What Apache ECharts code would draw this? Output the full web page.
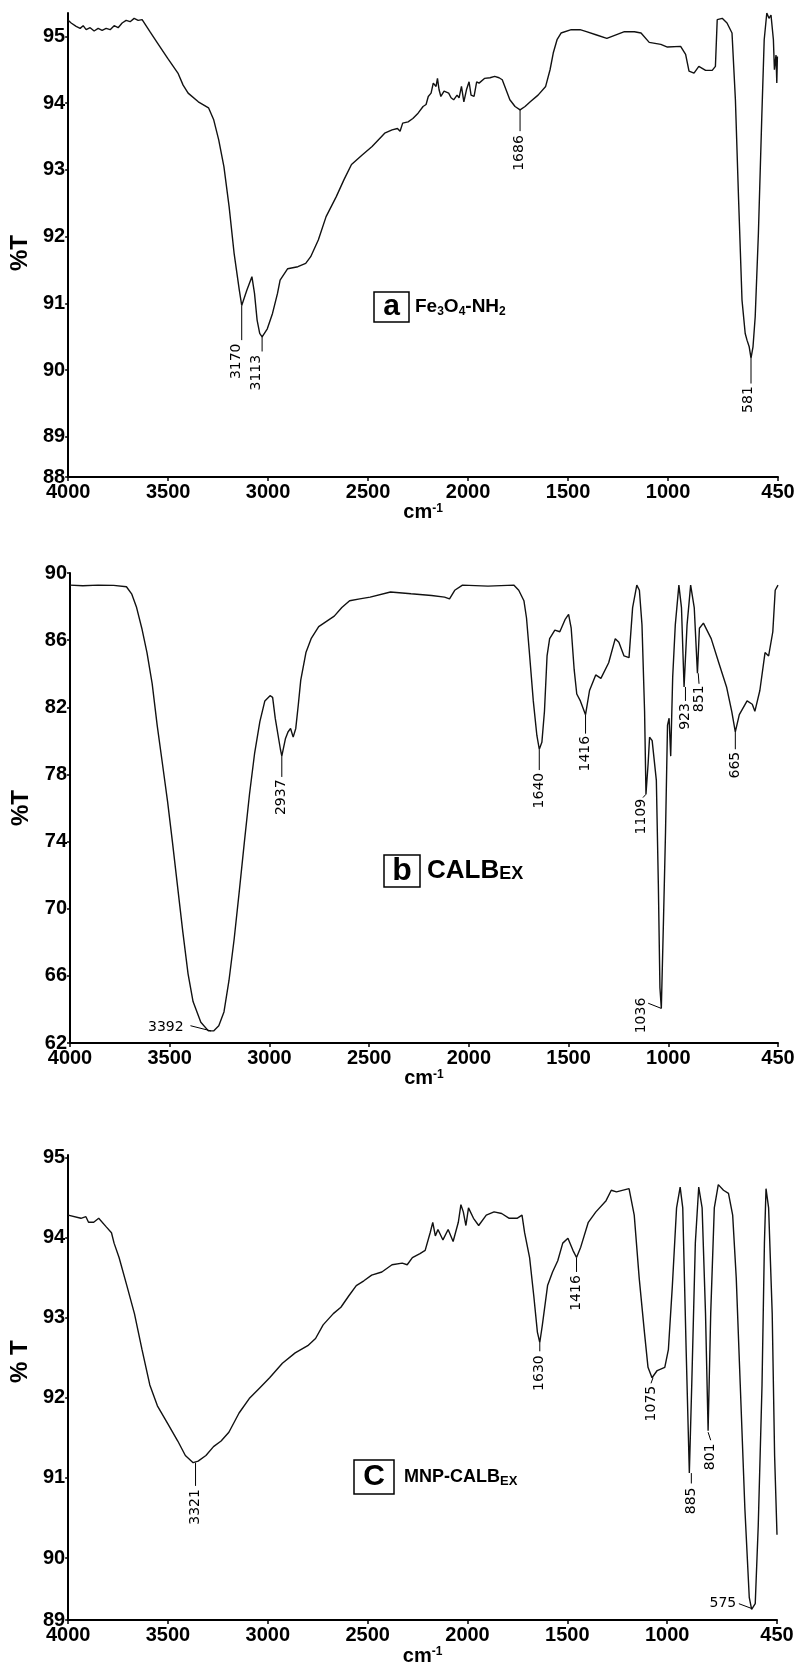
<!DOCTYPE html>
<html>
<head>
<meta charset="utf-8">
<script src="https://cdn.jsdelivr.net/npm/echarts@6/dist/echarts.min.js"></script>
<style>
  html, body { margin: 0; padding: 0; background: #fff; }
  #chart { width: 805px; height: 1667px; }
</style>
</head>
<body>
<div id="chart"></div>
<script>
// x axis ticks (wavenumber, cm-1) shared by the three spectra
const xTicks = [4000, 3500, 3000, 2500, 2000, 1500, 1000, 450]

// panel a : Fe3O4-NH2
const yTicksA = [88.4, 89, 90, 91, 92, 93, 94, 95]
const yLabelsA = ['88', '89', '90', '91', '92', '93', '94', '95']
const specA = [
  [4000, 95.24], [3985, 95.2], [3960, 95.15], [3940, 95.12], [3925, 95.16], [3910, 95.1],
  [3890, 95.13], [3870, 95.08], [3850, 95.12], [3830, 95.09], [3810, 95.12], [3790, 95.1],
  [3770, 95.16], [3750, 95.13], [3730, 95.2], [3710, 95.24], [3690, 95.22], [3670, 95.27],
  [3650, 95.24], [3630, 95.25], [3591, 95.07], [3553, 94.9], [3502, 94.67], [3451, 94.45],
  [3425, 94.27], [3400, 94.15], [3349, 94.02], [3298, 93.93], [3272, 93.75], [3247, 93.45],
  [3221, 93.05], [3195, 92.45], [3170, 91.75], [3144, 91.2], [3132, 90.97], [3106, 91.2],
  [3081, 91.4], [3068, 91.15], [3055, 90.75], [3042, 90.55], [3030, 90.5], [3004, 90.62],
  [2978, 90.85], [2953, 91.15], [2940, 91.35], [2902, 91.52], [2851, 91.55], [2812, 91.6],
  [2787, 91.7], [2749, 91.95], [2710, 92.3], [2659, 92.6], [2621, 92.85], [2583, 93.08],
  [2531, 93.22], [2480, 93.35], [2417, 93.55], [2380, 93.6], [2353, 93.62], [2340, 93.58],
  [2327, 93.7], [2300, 93.72], [2276, 93.77], [2250, 93.85], [2225, 93.95], [2210, 93.98],
  [2199, 94.1], [2185, 94.15], [2174, 94.3], [2160, 94.25], [2153, 94.37], [2145, 94.2],
  [2136, 94.1], [2120, 94.18], [2097, 94.15], [2085, 94.08], [2072, 94.05], [2055, 94.12],
  [2045, 94.08], [2033, 94.25], [2021, 94.02], [2008, 94.2], [1995, 94.32], [1985, 94.12],
  [1970, 94.1], [1957, 94.32], [1945, 94.3], [1918, 94.37], [1890, 94.38], [1867, 94.4],
  [1845, 94.38], [1829, 94.35], [1810, 94.2], [1791, 94.05], [1765, 93.95], [1740, 93.9],
  [1715, 93.95], [1689, 94.02], [1650, 94.12], [1612, 94.25], [1590, 94.5], [1574, 94.75],
  [1555, 94.95], [1535, 95.05], [1484, 95.1], [1440, 95.1], [1408, 95.07], [1357, 95.02],
  [1306, 94.97], [1300, 94.95], [1218, 95.07], [1168, 95.07], [1135, 95.05], [1094, 94.91],
  [1036, 94.88], [1003, 94.84], [937, 94.85], [912, 94.73], [895, 94.48], [870, 94.45],
  [846, 94.55], [812, 94.49], [779, 94.49], [763, 94.55], [754, 95.25], [729, 95.27],
  [705, 95.2], [680, 95.05], [663, 94.05], [647, 92.55], [630, 91.05], [614, 90.55],
  [605, 90.45], [594, 90.35], [585, 90.18], [575, 90.35], [564, 90.8], [548, 92.05],
  [531, 93.8], [519, 94.95], [506, 95.35], [495, 95.27], [485, 95.32], [473, 94.95],
  [468, 94.5], [460, 94.72], [456, 94.3], [453, 94.7]
]
// peak notes: text, orientation, curve x/y, leader end x/y, text anchor x/y
const peaksA = [
  ['3170', 'v', 3132, 90.97, 3132, 90.45, 3160, 90.4],
  ['3113', 'v', 3030, 90.5, 3030, 90.28, 3058, 90.23],
  ['1686', 'v', 1740, 93.9, 1740, 93.58, 1745, 93.52],
  ['581', 'v', 585, 90.18, 585, 89.8, 597, 89.76]
]

// panel b : CALBEX
const yTicksB = [62, 66, 70, 74, 78, 82, 86, 90]
const yLabelsB = ['62', '66', '70', '74', '78', '82', '86', '90']
const specB = [
  [4000, 89.28], [3936, 89.24], [3859, 89.28], [3781, 89.26], [3717, 89.18], [3691, 88.76],
  [3666, 87.94], [3640, 86.71], [3614, 85.26], [3588, 83.41], [3563, 80.94], [3537, 78.68],
  [3511, 76.41], [3486, 73.94], [3460, 71.26], [3434, 68.59], [3408, 66.12], [3383, 64.47],
  [3344, 63.24], [3306, 62.72], [3280, 62.72], [3254, 63.03], [3228, 63.85], [3203, 65.71],
  [3177, 68.18], [3151, 71.06], [3126, 73.94], [3100, 76.82], [3074, 79.29], [3048, 81.15],
  [3023, 82.38], [2997, 82.69], [2984, 82.59], [2971, 81.35], [2945, 79.5], [2938, 79.09],
  [2920, 80.12], [2907, 80.53], [2894, 80.74], [2881, 80.22], [2868, 80.74], [2855, 82.18],
  [2843, 83.62], [2817, 85.26], [2791, 86.09], [2753, 86.81], [2714, 87.12], [2675, 87.43],
  [2637, 87.94], [2598, 88.35], [2547, 88.46], [2495, 88.56], [2393, 88.87], [2290, 88.76],
  [2187, 88.66], [2122, 88.56], [2097, 88.46], [2071, 88.97], [2032, 89.28], [1904, 89.22],
  [1775, 89.28], [1750, 88.97], [1724, 88.35], [1711, 87.32], [1698, 85.47], [1677, 82.38],
  [1659, 80.32], [1647, 79.5], [1634, 79.91], [1621, 81.76], [1608, 85.06], [1595, 86.09],
  [1569, 86.6], [1544, 86.5], [1518, 87.22], [1500, 87.53], [1487, 86.71], [1472, 84.24],
  [1459, 82.79], [1441, 82.38], [1415, 81.56], [1395, 83.0], [1364, 83.93], [1338, 83.72],
  [1299, 84.65], [1266, 86.09], [1248, 85.88], [1222, 85.06], [1197, 84.96], [1179, 87.94],
  [1158, 89.28], [1145, 88.97], [1132, 86.91], [1119, 81.76], [1112, 76.82], [1101, 78.68],
  [1094, 80.22], [1081, 80.01], [1060, 77.65], [1050, 71.47], [1042, 65.29], [1035, 64.06],
  [1024, 69.41], [1014, 74.56], [1004, 80.94], [996, 81.35], [988, 79.09], [978, 83.82],
  [965, 86.91], [947, 89.28], [934, 87.94], [921, 83.21], [906, 86.91], [888, 89.28],
  [870, 87.94], [854, 84.03], [844, 86.71], [824, 87.01], [785, 86.09], [747, 84.65],
  [708, 83.21], [682, 81.76], [664, 80.53], [644, 81.56], [605, 82.38], [579, 82.18],
  [566, 81.76], [541, 83.0], [515, 85.26], [497, 85.06], [476, 86.5], [464, 88.97], [450, 89.28]
]
const peaksB = [
  ['3392', 'h', 3293, 62.72, 3396, 63.03, 3430, 62.93],
  ['2937', 'v', 2938, 79.09, 2938, 77.85, 2938, 77.7],
  ['1640', 'v', 1647, 79.5, 1647, 78.26, 1647, 78.1],
  ['1416', 'v', 1415, 81.56, 1415, 80.43, 1415, 80.3],
  ['1109', 'v', 1112, 76.82, 1127, 76.62, 1137, 76.55],
  ['1036', 'v', 1035, 64.06, 1101, 64.37, 1137, 64.7],
  ['923', 'v', 914, 83.21, 914, 82.38, 914, 82.25],
  ['851', 'v', 850, 84.03, 846, 83.4, 846, 83.3],
  ['665', 'v', 664, 80.53, 664, 79.5, 664, 79.35]
]

// panel c : MNP-CALBEX
const yTicksC = [89.225, 90, 91, 92, 93, 94, 95]
const yLabelsC = ['89', '90', '91', '92', '93', '94', '95']
const specC = [
  [4000, 94.28], [3936, 94.24], [3911, 94.26], [3898, 94.19], [3872, 94.19], [3847, 94.24],
  [3808, 94.13], [3783, 94.06], [3770, 93.93], [3745, 93.75], [3706, 93.4], [3668, 93.05],
  [3630, 92.6], [3591, 92.16], [3553, 91.9], [3502, 91.68], [3451, 91.46], [3413, 91.28],
  [3374, 91.19], [3349, 91.21], [3310, 91.28], [3272, 91.39], [3234, 91.46], [3195, 91.57],
  [3144, 91.81], [3093, 91.99], [3042, 92.12], [2991, 92.25], [2927, 92.43], [2863, 92.56],
  [2800, 92.65], [2761, 92.74], [2723, 92.91], [2672, 93.05], [2634, 93.13], [2595, 93.27],
  [2557, 93.4], [2519, 93.46], [2480, 93.53], [2429, 93.57], [2378, 93.66], [2327, 93.68],
  [2302, 93.66], [2276, 93.75], [2238, 93.8], [2212, 93.84], [2187, 94.06], [2174, 94.19],
  [2161, 94.02], [2148, 94.1], [2123, 93.97], [2097, 94.1], [2072, 93.95], [2046, 94.19],
  [2033, 94.41], [2021, 94.32], [2008, 94.15], [1995, 94.37], [1970, 94.24], [1944, 94.15],
  [1906, 94.28], [1867, 94.32], [1829, 94.3], [1791, 94.24], [1752, 94.24], [1727, 94.28],
  [1714, 94.06], [1689, 93.75], [1668, 93.27], [1650, 92.82], [1638, 92.69], [1625, 92.91],
  [1599, 93.4], [1574, 93.57], [1548, 93.71], [1523, 93.93], [1497, 93.99], [1472, 93.84],
  [1454, 93.75], [1433, 93.88], [1395, 94.19], [1357, 94.32], [1306, 94.46], [1280, 94.59],
  [1254, 94.57], [1191, 94.61], [1165, 94.28], [1140, 93.49], [1114, 92.82], [1096, 92.38],
  [1076, 92.25], [1050, 92.34], [1012, 92.38], [994, 92.6], [974, 93.4], [953, 94.37],
  [935, 94.63], [922, 94.37], [905, 92.6], [889, 91.06], [877, 92.16], [859, 93.93],
  [842, 94.63], [825, 94.37], [808, 93.05], [795, 91.59], [782, 93.05], [764, 94.37],
  [744, 94.66], [718, 94.59], [693, 94.55], [672, 94.28], [654, 93.49], [634, 92.16],
  [611, 90.62], [589, 89.51], [577, 89.36], [559, 89.43], [544, 90.4], [525, 92.16],
  [513, 93.93], [505, 94.61], [492, 94.37], [474, 93.05], [462, 91.28], [450, 90.29]
]
const peaksC = [
  ['3321', 'v', 3362, 91.19, 3362, 90.9, 3362, 90.86],
  ['1630', 'v', 1638, 92.69, 1638, 92.58, 1638, 92.53],
  ['1416', 'v', 1454, 93.75, 1454, 93.57, 1454, 93.53],
  ['1075', 'v', 1071, 92.25, 1081, 92.18, 1081, 92.15],
  ['885', 'v', 879, 91.06, 879, 90.93, 879, 90.88],
  ['801', 'v', 795, 91.57, 782, 91.47, 782, 91.43],
  ['575', 'h', 577, 89.37, 641, 89.43, 654, 89.43]
]

const FONT = '"Liberation Sans", Arial, sans-serif'
const NOTE_FONT = '14px "DejaVu Sans", sans-serif'

// each panel: data + where its grid sits on the page
const panels = [
  {spec: specA, peaks: peaksA, yTicks: yTicksA, yLabels: yLabelsA, yName: '%T', yMax: 95.35,
    grid: {left: 63, top: 13, width: 715, height: 464}, nameGap: 25, yNameShift: -16},
  {spec: specB, peaks: peaksB, yTicks: yTicksB, yLabels: yLabelsB, yName: '%T', yMax: 90,
    grid: {left: 70, top: 573, width: 708, height: 470}, nameGap: 22, yNameShift: 0},
  {spec: specC, peaks: peaksC, yTicks: yTicksC, yLabels: yLabelsC, yName: '% T', yMax: 95.03,
    grid: {left: 63, top: 1155, width: 714, height: 475}, nameGap: 19, yNameShift: 52}
]

function labelFor(ticks, labels) {
  return function (v) {
    for (let i = 0; i < ticks.length; i++) {
      if (Math.abs(ticks[i] - v) < 1e-6) return labels[i]
    }
    return ''
  }
}

function renderNotes(peaks) {
  return function (params, api) {
    const row = peaks[params.dataIndex]
    const p0 = api.coord([api.value(0), api.value(1)])
    const p1 = api.coord([api.value(2), api.value(3)])
    const pt = api.coord([api.value(4), api.value(5)])
    const vertical = row[1] === 'v'
    return {
      type: 'group',
      children: [
        {type: 'line', shape: {x1: p0[0], y1: p0[1], x2: p1[0], y2: p1[1]},
          style: {stroke: '#000', lineWidth: 1}},
        {type: 'text', x: pt[0], y: pt[1], rotation: vertical ? Math.PI / 2 : 0,
          style: {text: row[0], font: NOTE_FONT, fill: '#000', align: 'right', verticalAlign: 'middle'}}
      ]
    }
  }
}

const option = {
  animation: false,
  backgroundColor: '#fff',
  grid: [],
  xAxis: [],
  yAxis: [],
  series: [],
  title: [
    {left: 374, top: 292, padding: 0,
      text: '{box|a}{g|}{t|Fe}{s|3}{t|O}{s|4}{t|-NH}{s|2}',
      textStyle: {rich: {
        box: {fontSize: 30, fontWeight: 'bold', fontFamily: FONT, color: '#000', borderColor: '#000',
          borderWidth: 1.5, width: 35, height: 30, lineHeight: 30, align: 'center'},
        g: {width: 6},
        t: {fontSize: 19, fontWeight: 'bold', fontFamily: FONT, color: '#000'},
        s: {fontSize: 12, fontWeight: 'bold', fontFamily: FONT, color: '#000', verticalAlign: 'bottom', padding: [0, 0, 4, 0]}
      }}},
    {left: 384, top: 855, padding: 0,
      text: '{box|b}{g|}{t|CALB}{s|EX}',
      textStyle: {rich: {
        box: {fontSize: 32, fontWeight: 'bold', fontFamily: FONT, color: '#000', borderColor: '#000',
          borderWidth: 1.5, width: 36, height: 32, lineHeight: 32, align: 'center'},
        g: {width: 7},
        t: {fontSize: 26, fontWeight: 'bold', fontFamily: FONT, color: '#000'},
        s: {fontSize: 18, fontWeight: 'bold', fontFamily: FONT, color: '#000', verticalAlign: 'bottom', padding: [0, 0, 4, 0]}
      }}},
    {left: 354, top: 1460, padding: 0,
      text: '{box|C}{g|}{t|MNP-CALB}{s|EX}',
      textStyle: {rich: {
        box: {fontSize: 30, fontWeight: 'bold', fontFamily: FONT, color: '#000', borderColor: '#000',
          borderWidth: 1.5, width: 40, height: 34, lineHeight: 34, align: 'center'},
        g: {width: 10},
        t: {fontSize: 18, fontWeight: 'bold', fontFamily: FONT, color: '#000'},
        s: {fontSize: 13, fontWeight: 'bold', fontFamily: FONT, color: '#000', verticalAlign: 'bottom', padding: [0, 0, 6, 0]}
      }}}
  ]
}

panels.forEach(function (p, i) {
  option.grid.push(p.grid)
  option.xAxis.push({
    gridIndex: i, type: 'value', inverse: true, min: 450, max: 4000,
    axisLine: {lineStyle: {color: '#000', width: 2}},
    axisTick: {customValues: xTicks, length: 4, lineStyle: {color: '#000', width: 1.5}},
    axisLabel: {customValues: xTicks, formatter: function (v) { return String(v) }, color: '#000',
      fontSize: 20, fontWeight: 'bold', fontFamily: FONT, margin: 5},
    splitLine: {show: false},
    name: '{a|cm}{b|-1}', nameLocation: 'middle', nameGap: p.nameGap,
    nameTextStyle: {rich: {
      a: {fontSize: 20, fontWeight: 'bold', fontFamily: FONT, color: '#000'},
      b: {fontSize: 12, fontWeight: 'bold', fontFamily: FONT, color: '#000', verticalAlign: 'top'}
    }}
  })
  option.yAxis.push({
    gridIndex: i, type: 'value', min: p.yTicks[0], max: p.yMax,
    axisLine: {show: true, lineStyle: {color: '#000', width: 2}},
    axisTick: {show: true, customValues: p.yTicks, length: 3, lineStyle: {color: '#000', width: 1.5}},
    axisLabel: {customValues: p.yTicks, formatter: labelFor(p.yTicks, p.yLabels), color: '#000',
      fontSize: 20, fontWeight: 'bold', fontFamily: FONT, margin: 3},
    splitLine: {show: false},
    name: p.yName, nameLocation: 'middle', nameRotate: 90, nameGap: 27,
    nameTextStyle: {fontSize: 24, fontWeight: 'bold', fontFamily: FONT, color: '#000',
      padding: p.yNameShift > 0 ? [0, 0, 0, p.yNameShift] : [0, -p.yNameShift, 0, 0]}
  })
  option.series.push({
    type: 'line', xAxisIndex: i, yAxisIndex: i, data: p.spec,
    showSymbol: false, symbol: 'none', smooth: false,
    lineStyle: {color: '#111', width: 1.4}
  })
  option.series.push({
    type: 'custom', xAxisIndex: i, yAxisIndex: i,
    data: p.peaks.map(function (r) { return r.slice(2) }),
    encode: {x: [0, 2, 4], y: [1, 3, 5]},
    renderItem: renderNotes(p.peaks),
    clip: false, z: 5
  })
})

const chart = echarts.init(document.getElementById('chart'))
chart.setOption(option)
</script>
</body>
</html>
